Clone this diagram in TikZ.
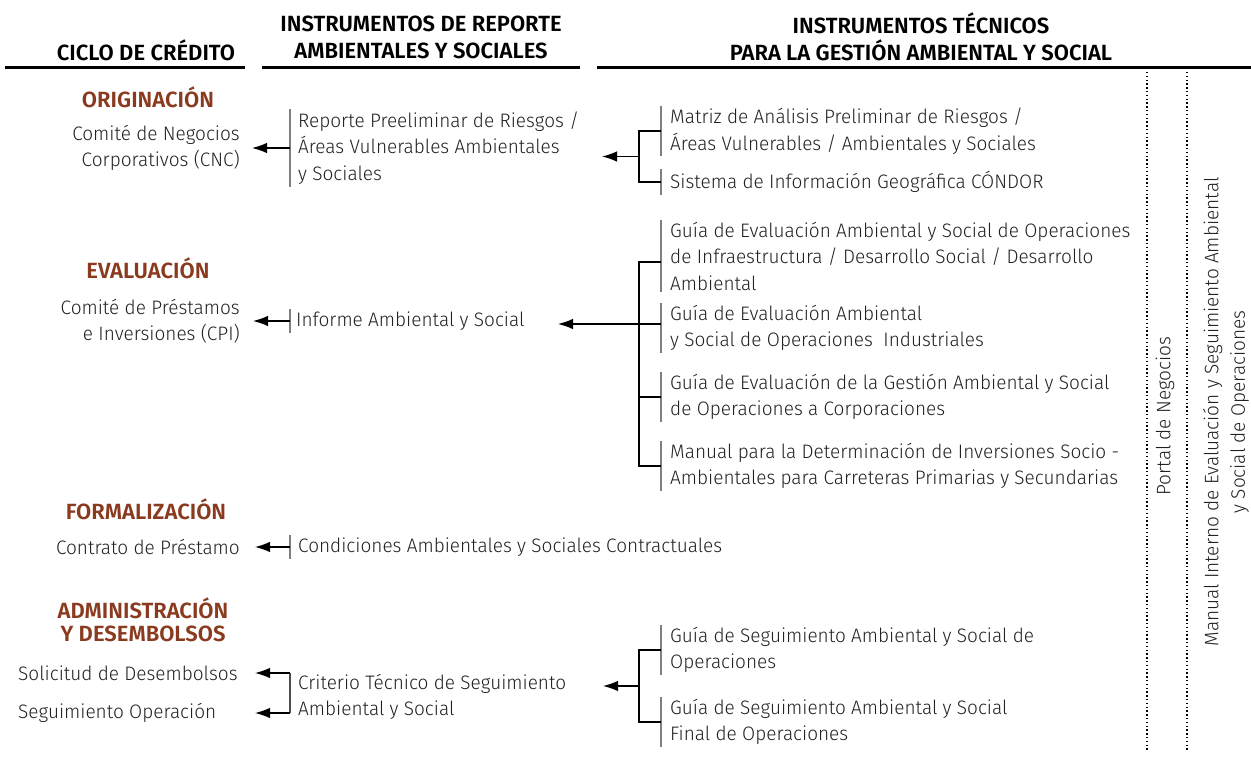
\documentclass[tikz,border=0pt]{standalone}
\usepackage{fontspec}
\setmainfont{Fira Sans}[UprightFont={* Light}, BoldFont={* SemiBold}, UprightFeatures={FakeStretch=0.975}]
\usetikzlibrary{arrows.meta,calc}
\definecolor{brn}{HTML}{8A3A1E}
\definecolor{txt}{HTML}{231F20}
\definecolor{barc}{HTML}{7F7F7F}
\tikzset{
 body/.style={inner sep=0pt, text=txt, font={\fontsize{19.5}{26.5}\selectfont}},
 hdr/.style={inner sep=0pt, font={\bfseries\fontsize{22}{27}\selectfont}, align=center},
 phase/.style={inner sep=0pt, text=brn, font={\bfseries\fontsize{22}{23}\selectfont}, align=center},
 rulel/.style={line width=3pt},
 barl/.style={line width=1.5pt, draw=barc, shorten <=-2pt, shorten >=-2pt},
 brk/.style={line width=1.2pt},
 arr/.style={line width=1.3pt, -{Latex[length=15pt,width=10.5pt]}},
 dotline/.style={line width=1.3pt, dash pattern=on 1.3pt off 2.5pt},
}
\begin{document}
\begin{tikzpicture}[x=1pt,y=-1pt]
\useasboundingbox (0,0) rectangle (1251,758);
% column x positions
\coordinate (xl) at (290,0);
\coordinate (xb) at (639,0);
\coordinate (xg) at (661,0);
% headers
\node[hdr] (h1) at (146,50) {CICLO DE CRÉDITO};
\node[hdr] (h2) at (421,37) {INSTRUMENTOS DE REPORTE\\AMBIENTALES Y SOCIALES};
\node[hdr] (h3) at (921,37) {INSTRUMENTOS TÉCNICOS\\PARA LA GESTIÓN AMBIENTAL Y SOCIAL};
\coordinate (r1a) at (5,67);   \coordinate (r1b) at (245,67);
\coordinate (r2a) at (262,67); \coordinate (r2b) at (580,67);
\coordinate (r3a) at (597,67); \coordinate (r3b) at (1251,67);
\draw[rulel] (r1a) -- (r1b);
\draw[rulel] (r2a) -- (r2b);
\draw[rulel] (r3a) -- (r3b);
% dotted columns
\coordinate (d1a) at (1147,72); \coordinate (d1b) at (1147,752);
\coordinate (d2a) at (1187,72); \coordinate (d2b) at (1187,752);
\draw[dotline] (d1a) -- (d1b);
\draw[dotline] (d2a) -- (d2b);
\node[body, rotate=90] (portal) at (1165,416) {Portal de Negocios};
\node[body, rotate=90, align=center] (manual) at (1226,412) {Manual Interno de Evaluación y Seguimiento Ambiental\\y Social de Operaciones};
% ---------- ORIGINACION
\node[phase] (p1) at (148,97) {ORIGINACIÓN};
\node[body, anchor=east, align=right] (cnc) at (240,148) {Comité de Negocios\\Corporativos (CNC)};
\node[body, anchor=west, align=left] (rep) at (298,148) {Reporte Preeliminar de Riesgos /\\Áreas Vulnerables Ambientales\\y Sociales};
\draw[barl] (rep.north -| xl) -- (rep.south -| xl);
\coordinate (t1) at (252,148);
\draw[arr] (rep.west -| xl) -- (t1);
\node[body, anchor=west, align=left] (mat) at (670,131) {Matriz de Análisis Preliminar de Riesgos /\\Áreas Vulnerables / Ambientales y Sociales};
\node[body, anchor=west] (sig) at (670,182) {Sistema de Información Geográfica CÓNDOR};
\draw[barl] (mat.north -| xg) -- (mat.south -| xg);
\draw[barl] (sig.north -| xg) -- (sig.south -| xg);
\draw[brk] (mat.west -| xg) -- (mat.west -| xb) -- (sig.west -| xb) -- (sig.west -| xg);
\coordinate (m2) at ($(mat.west -| xb)!0.5!(sig.west -| xb)$);
\coordinate (t2) at (602,0);
\draw[arr] (m2) -- (m2 -| t2);
% ---------- EVALUACION
\node[phase] (p2) at (148,268) {EVALUACIÓN};
\node[body, anchor=east, align=right] (cpi) at (240,321) {Comité de Préstamos\\e Inversiones (CPI)};
\node[body, anchor=west] (inf) at (296,321) {Informe Ambiental y Social};
\draw[barl] (inf.north -| xl) -- (inf.south -| xl);
\coordinate (t3) at (253,0);
\draw[arr] (inf.west -| xl) -- (inf.west -| t3);
\node[body, anchor=west, align=left] (g1) at (670,256) {Guía de Evaluación Ambiental y Social de Operaciones\\de Infraestructura / Desarrollo Social / Desarrollo\\Ambiental};
\node[body, anchor=west, align=left] (g2) at (670,328) {Guía de Evaluación Ambiental\\y Social de Operaciones~~Industriales};
\node[body, anchor=west, align=left] (g3) at (670,397) {Guía de Evaluación de la Gestión Ambiental y Social\\de Operaciones a Corporaciones};
\node[body, anchor=west, align=left] (g4) at (670,466) {Manual para la Determinación de Inversiones Socio -\\Ambientales para Carreteras Primarias y Secundarias};
\foreach \g in {g1,g2,g3,g4} {\draw[barl] (\g.north -| xg) -- (\g.south -| xg);}
\coordinate (s1) at ([yshift=-6pt]g1.west);
\draw[brk] (s1 -| xg) -- (s1 -| xb) -- (g4.west -| xb) -- (g4.west -| xg);
\draw[brk] (g3.west -| xb) -- (g3.west -| xg);
\coordinate (t4) at (558,0);
\coordinate (s2) at ([yshift=4pt]g2.west);
\draw[arr] (s2 -| xg) -- (s2 -| t4);
% ---------- FORMALIZACION
\node[phase] (p3) at (146,509) {FORMALIZACIÓN};
\node[body, anchor=east] (con) at (240,547) {Contrato de Préstamo};
\node[body, anchor=west] (cond) at (298,547) {Condiciones Ambientales y Sociales Contractuales};
\draw[barl] (cond.north -| xl) -- (cond.south -| xl);
\coordinate (t5) at (255,0);
\draw[arr] (cond.west -| xl) -- (cond.west -| t5);
% ---------- ADMINISTRACION
\node[phase] (p4) at (143,620) {ADMINISTRACIÓN\\Y DESEMBOLSOS};
\node[body, anchor=west] (sol) at (18,673) {Solicitud de Desembolsos};
\node[body, anchor=west] (seg) at (18,713) {Seguimiento Operación};
\node[body, anchor=west, align=left] (crit) at (298,697) {Criterio Técnico de Seguimiento\\Ambiental y Social};
\coordinate (t6) at (255,0);
\draw[brk, draw=barc!60!black] (xl |- sol.west) -- (xl |- seg.west);
\draw[arr] (xl |- sol.west) -- (t6 |- sol.west);
\draw[arr] (xl |- seg.west) -- (t6 |- seg.west);
\node[body, anchor=west, align=left] (gs1) at (670,650) {Guía de Seguimiento Ambiental y Social de\\Operaciones};
\node[body, anchor=west, align=left] (gs2) at (670,722) {Guía de Seguimiento Ambiental y Social\\Final de Operaciones};
\draw[barl] (gs1.north -| xg) -- (gs1.south -| xg);
\draw[barl] (gs2.north -| xg) -- (gs2.south -| xg);
\draw[brk] (gs1.west -| xg) -- (gs1.west -| xb) -- (gs2.west -| xb) -- (gs2.west -| xg);
\coordinate (m7) at ($(gs1.west -| xb)!0.5!(gs2.west -| xb)$);
\coordinate (t7) at (603,0);
\draw[arr] (m7) -- (m7 -| t7);
\end{tikzpicture}
\end{document}
